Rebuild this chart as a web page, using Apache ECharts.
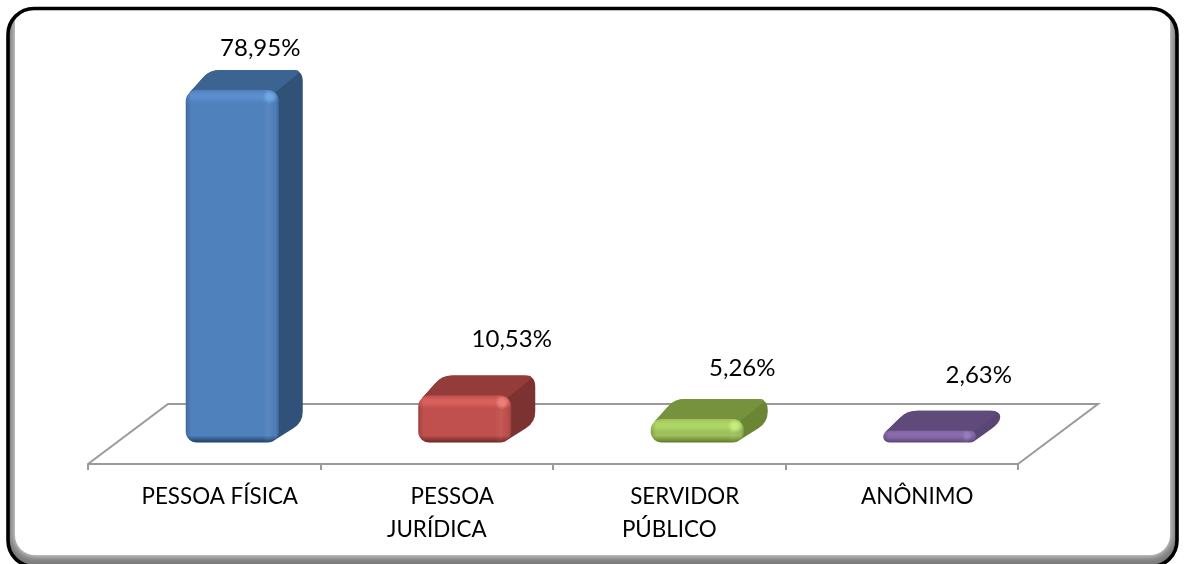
<!DOCTYPE html>
<html>
<head>
<meta charset="utf-8">
<style>
  html, body { margin: 0; padding: 0; background: #fff; }
  #main { width: 1186px; height: 564px; }
</style>
<script src="https://cdn.jsdelivr.net/npm/echarts@6/dist/echarts.min.js"></script>
</head>
<body>
<div id="main"></div>
<script>
const categories = ['PESSOA FÍSICA', 'PESSOA\nJURÍDICA', 'SERVIDOR\nPÚBLICO', 'ANÔNIMO'];
const percentValues = [78.95, 10.53, 5.26, 2.63];
const valueLabels = ['78,95%', '10,53%', '5,26%', '2,63%'];

// hand placed labels in the original, nudge from the bar centre
const labelNudge = [16, 35, 33, 37];
const labelGap = [22, 36, 31, 35];

const palette = [
  { front: '#4f81bd', top: '#3b6493', side: '#305278', light: '#5a8ecc', glow: '#6fa6e6', dark: '#1d3c63' },
  { front: '#c0504d', top: '#943c3a', side: '#7b3230', light: '#d8605c', glow: '#ee7f7a', dark: '#6a2523' },
  { front: '#9fc05c', top: '#76923c', side: '#6a8534', light: '#aed667', glow: '#c6ec7a', dark: '#5e7a2a' },
  { front: '#8064a2', top: '#604a7b', side: '#5a4674', light: '#8a6cae', glow: '#9a7cc0', dark: '#5a4578' }
];

const depthX = 24;
const depthY = 20;
const floorX = 80;
const floorY = 60;
const floorDrop = 21.5;
const axisColor = '#9a9a9a';
const axisWidth = 2;
const fontFamily = 'Lato, "Open Sans", sans-serif';

// polygon with rounded corners, as an svg path string
// a third value on a point overrides the corner radius
function roundedPoly(pts, r) {
  let d = '';
  const n = pts.length;
  for (let i = 0; i < n; i++) {
    const p = pts[i];
    const a = pts[(i + n - 1) % n];
    const b = pts[(i + 1) % n];
    const pr = p[2] === undefined ? r : p[2];
    const la = Math.hypot(a[0] - p[0], a[1] - p[1]) || 1;
    const lb = Math.hypot(b[0] - p[0], b[1] - p[1]) || 1;
    const ra = Math.min(pr, la / 2);
    const rb = Math.min(pr, lb / 2);
    const s = [p[0] + (a[0] - p[0]) * ra / la, p[1] + (a[1] - p[1]) * ra / la];
    const e = [p[0] + (b[0] - p[0]) * rb / lb, p[1] + (b[1] - p[1]) * rb / lb];
    d += (i ? 'L' : 'M') + s[0] + ' ' + s[1] + 'Q' + p[0] + ' ' + p[1] + ' ' + e[0] + ' ' + e[1];
  }
  return d + 'Z';
}

function renderBar(params, api) {
  const i = params.dataIndex;
  const c = palette[i];
  const base = api.coord([i, 0]);
  const head = api.coord([i, api.value(1)]);
  const w = api.size([1, 0])[0] * 0.4;
  const x0 = base[0] + (floorX - depthX) / 2 - w / 2;
  const x1 = x0 + w;
  const yb = base[1];
  const yt = head[1];
  const h = yb - yt;
  const r = Math.min(11, h / 2);
  const mid = x0 + w / 2;

  // the depth edges leave the round front corners along their tangent
  const tipL = [x0 + r * 0.36, yt + r * 0.23, 0];
  const tipR = [x1 - r * 0.36, yb - r * 0.23, 0];
  const topPts = [tipL, [x0 + depthX, yt - depthY], [x1 + depthX, yt - depthY], [x1 - r * 0.36, yt + r * 0.23, 0], [mid, yt + r * 0.23, 0]];
  const sil = [
    tipL, [x0 + depthX, yt - depthY], [x1 + depthX, yt - depthY],
    [x1 + depthX, yb - depthY], tipR, [mid, yb - r * 0.23, 0]
  ];

  const edge = Math.min(13, h * 0.6);
  const vert = {
    type: 'linear', x: 0, y: 0, x2: 0, y2: 1,
    colorStops: [
      { offset: 0, color: c.front },
      { offset: edge * 0.35 / h, color: c.light },
      { offset: edge * 0.6 / h, color: c.light },
      { offset: edge / h, color: c.front },
      { offset: Math.max(edge / h, 1 - 7 / h), color: c.front },
      { offset: 1, color: c.dark }
    ]
  };
  const bw = 11 / w;
  const horiz = {
    type: 'linear', x: 0, y: 0, x2: 1, y2: 0,
    colorStops: [
      { offset: 0, color: 'rgba(0,0,0,0.18)' },
      { offset: bw * 0.5, color: 'rgba(0,0,0,0)' },
      { offset: 1 - bw * 1.5, color: 'rgba(255,255,255,0)' },
      { offset: 1 - bw * 0.9, color: 'rgba(255,255,255,0.06)' },
      { offset: 1 - bw * 0.3, color: 'rgba(0,0,0,0.02)' },
      { offset: 1, color: 'rgba(0,0,0,0.2)' }
    ]
  };
  const glowR = Math.min(7, h / 2.5);

  return {
    type: 'group',
    children: [
      { type: 'path', shape: { pathData: roundedPoly(sil, 11) }, style: { fill: c.side } },
      { type: 'path', shape: { pathData: roundedPoly(topPts, 9) }, style: { fill: c.top } },
      { type: 'rect', shape: { x: x0, y: yt, width: w, height: h, r: r }, style: { fill: vert } },
      { type: 'rect', shape: { x: x0, y: yt, width: w, height: h, r: r }, style: { fill: horiz } },
      {
        type: 'circle',
        shape: { cx: x1 - 9, cy: yt + Math.min(7, h * 0.42), r: glowR },
        style: {
          fill: {
            type: 'radial', x: 0.5, y: 0.5, r: 0.5,
            colorStops: [
              { offset: 0, color: c.glow },
              { offset: 0.35, color: c.glow },
              { offset: 1, color: echarts.color.modifyAlpha(c.glow, 0) }
            ]
          }
        }
      },
      {
        type: 'text',
        style: {
          x: (x0 + x1 + depthX) / 2 + labelNudge[i],
          y: yt - depthY - labelGap[i],
          text: valueLabels[i],
          fill: '#000',
          font: '24px ' + fontFamily,
          align: 'center',
          verticalAlign: 'middle'
        }
      }
    ]
  };
}

// the floor behind the bars, it follows the category bands
function renderFloor(params, api) {
  const band = api.size([1, 0])[0];
  const a = api.coord([0, 0])[0] - band / 2;
  const b = api.coord([categories.length - 1, 0])[0] + band / 2;
  const y = api.coord([0, 0])[1] + floorDrop;
  return {
    type: 'polyline',
    shape: {
      points: [[a, y], [a + floorX, y - floorY], [b + floorX, y - floorY], [b, y]]
    },
    style: { fill: 'none', stroke: axisColor, lineWidth: axisWidth }
  };
}

const chart = echarts.init(document.getElementById('main'));
chart.setOption({
  animation: false,
  backgroundColor: '#fff',
  graphic: [
    {
      type: 'group',
      z: -10,
      silent: true,
      children: [
        { type: 'rect', shape: { x: 8, y: 8.5, width: 1169, height: 558, r: 26 }, style: { fill: '#7a7a7a' } },
        {
          type: 'rect',
          shape: { x: 15, y: 2, width: 1155, height: 553, r: 20 },
          style: { fill: '#fff', shadowColor: '#fff', shadowBlur: 9 }
        },
        {
          type: 'rect',
          shape: { x: 8, y: 8.5, width: 1169, height: 558, r: 26 },
          style: { fill: 'none', stroke: '#000', lineWidth: 3.6 }
        }
      ]
    }
  ],
  grid: { left: 88, right: 168, top: 90, bottom: 121.5, containLabel: false },
  xAxis: {
    type: 'category',
    data: categories,
    offset: floorDrop,
    axisLine: { onZero: false, lineStyle: { color: axisColor, width: axisWidth } },
    axisTick: { show: true, alignWithLabel: false, length: 6, lineStyle: { color: axisColor, width: axisWidth } },
    axisLabel: {
      color: '#000',
      interval: 0,
      margin: 16,
      fontFamily: fontFamily,
      fontSize: 22.4,
      lineHeight: 33,
      formatter: function (v) {
        const parts = v.split('\n');
        return parts.map((t, k) => (k === 0 ? '{first|' + t + '}' : '{plain|' + t + '}')).join('\n');
      },
      rich: {
        first: { padding: [0, 0, 0, 31], fontFamily: fontFamily, fontSize: 22.4, lineHeight: 33, color: '#000' },
        plain: { fontFamily: fontFamily, fontSize: 22.4, lineHeight: 33, color: '#000' }
      }
    }
  },
  yAxis: { type: 'value', min: 0, max: 78.95, show: false },
  series: [
    {
      type: 'custom',
      silent: true,
      z: 1,
      renderItem: renderFloor,
      data: [[0, 0]],
      clip: false
    },
    {
      type: 'custom',
      silent: true,
      z: 2,
      clip: false,
      renderItem: renderBar,
      encode: { x: 0, y: 1 },
      data: percentValues.map((v, i) => [i, v])
    }
  ]
});
</script>
</body>
</html>
